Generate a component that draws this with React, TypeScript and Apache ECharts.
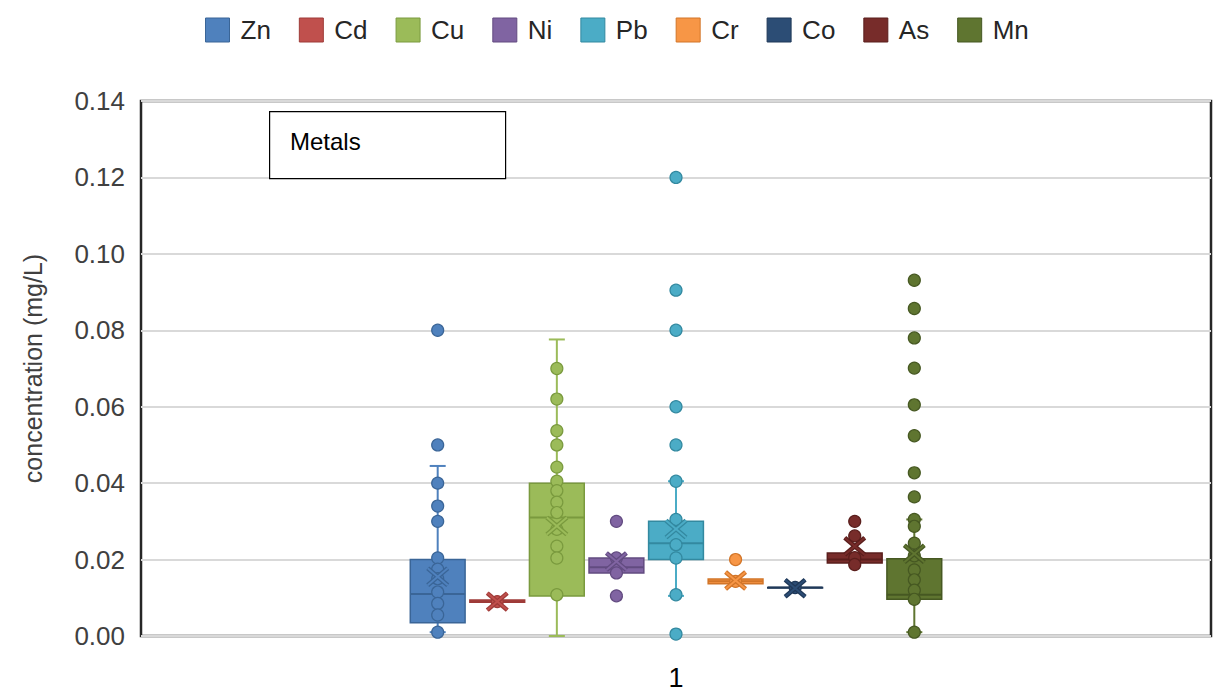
import React, { useEffect, useRef } from "react";
import * as echarts from "echarts";

const metals = ["Zn", "Cd", "Cu", "Ni", "Pb", "Cr", "Co", "As", "Mn"];
const colors = ["#4F81BD", "#C0504D", "#9BBB59", "#8064A2", "#4BACC6", "#F79646", "#2C4D75", "#772C2A", "#5F7530"];
const borders = ["#3A6597", "#9E3B38", "#7A9A3E", "#624B80", "#3389A0", "#D27528", "#1F3858", "#5A1E1C", "#465822"];

const lowWhisker = [0.001, 0.0088, 0.0, 0.0165, 0.0105, 0.0137, 0.0127, 0.0191, 0.001];
const q1 = [0.0035, 0.0088, 0.0105, 0.0165, 0.02, 0.0137, 0.0127, 0.0191, 0.0096];
const median = [0.011, 0.009, 0.031, 0.018, 0.0243, 0.0143, 0.0127, 0.02, 0.0108];
const q3 = [0.02, 0.0094, 0.04, 0.0204, 0.03, 0.0149, 0.0127, 0.0217, 0.0202];
const highWhisker = [0.0445, 0.0094, 0.0776, 0.0204, 0.0405, 0.0149, 0.0127, 0.0217, 0.0305];
const mean = [0.0155, 0.009, 0.0288, 0.0195, 0.028, 0.0145, 0.0125, 0.0235, 0.0215];

const znPoints = [0.08, 0.05, 0.04, 0.034, 0.03, 0.0204, 0.0175, 0.015, 0.0115, 0.0085, 0.0055, 0.001];
const cdPoints = [0.009];
const cuPoints = [0.07, 0.062, 0.0537, 0.05, 0.0442, 0.0405, 0.038, 0.035, 0.0323, 0.0279, 0.0235, 0.0204, 0.0108];
const niPoints = [0.03, 0.0204, 0.018, 0.0165, 0.0105];
const pbPoints = [0.12, 0.0905, 0.08, 0.06, 0.05, 0.0405, 0.0305, 0.0239, 0.0204, 0.0108, 0.0005];
const crPoints = [0.02, 0.0143];
const coPoints = [0.0127];
const asPoints = [0.03, 0.0262, 0.0205, 0.0187];
const mnPoints = [0.0931, 0.0857, 0.078, 0.0701, 0.0605, 0.0524, 0.0427, 0.0364, 0.0305, 0.0287, 0.0243, 0.021, 0.0173, 0.0147, 0.012, 0.0096, 0.001];
const pointSets = [znPoints, cdPoints, cuPoints, niPoints, pbPoints, crPoints, coPoints, asPoints, mnPoints];

const xCategories = ["1"];
const yTicks = { min: 0, max: 0.14, interval: 0.02 };

const FONT = "'Liberation Sans', Arial, sans-serif";
const BOX_W = 0.92;

function boxRender(color: string, dark: string) {
  return (params: any, api: any) => {
    const x = api.value(0);
    const lo = api.coord([x, api.value(1)]);
    const b1 = api.coord([x, api.value(2)]);
    const md = api.coord([x, api.value(3)]);
    const b3 = api.coord([x, api.value(4)]);
    const hi = api.coord([x, api.value(5)]);
    const w = api.size([BOX_W, 0])[0];
    const cx = lo[0];
    const cap = 8;
    const children: any[] = [];
    const ls = { stroke: color, lineWidth: 2 };
    if (hi[1] < b3[1] - 0.5) {
      children.push({ type: "line", shape: { x1: cx, y1: b3[1], x2: cx, y2: hi[1] }, style: ls });
      children.push({ type: "line", shape: { x1: cx - cap, y1: hi[1], x2: cx + cap, y2: hi[1] }, style: ls });
    }
    if (lo[1] > b1[1] + 0.5) {
      children.push({ type: "line", shape: { x1: cx, y1: b1[1], x2: cx, y2: lo[1] }, style: ls });
      children.push({ type: "line", shape: { x1: cx - cap, y1: lo[1], x2: cx + cap, y2: lo[1] }, style: ls });
    }
    children.push({
      type: "rect",
      shape: { x: cx - w / 2, y: b3[1], width: w, height: Math.max(b1[1] - b3[1], 0.5) },
      style: { fill: color, stroke: dark, lineWidth: 1.5 },
    });
    children.push({ type: "line", shape: { x1: cx - w / 2, y1: md[1], x2: cx + w / 2, y2: md[1] }, style: { stroke: dark, lineWidth: 2 } });
    return { type: "group", children };
  };
}

function meanRender(color: string, dark: string) {
  return (params: any, api: any) => {
    const p = api.coord([api.value(0), api.value(1)]);
    const r = 10;
    const s1 = { x1: p[0] - r, y1: p[1] - r * 0.85, x2: p[0] + r, y2: p[1] + r * 0.85 };
    const s2 = { x1: p[0] - r, y1: p[1] + r * 0.85, x2: p[0] + r, y2: p[1] - r * 0.85 };
    return {
      type: "group",
      children: [
        { type: "line", shape: s1, style: { stroke: dark, lineWidth: 4.5 } },
        { type: "line", shape: s2, style: { stroke: dark, lineWidth: 4.5 } },
        { type: "line", shape: s1, style: { stroke: color, lineWidth: 2 } },
        { type: "line", shape: s2, style: { stroke: color, lineWidth: 2 } },
      ],
    };
  };
}

export default function App() {
  const ref = useRef<HTMLDivElement>(null);
  useEffect(() => {
    if (!ref.current) return;
    const chart = echarts.init(ref.current, null, { renderer: "svg" });
    const series: any[] = [];
    metals.forEach((m, i) => {
      series.push({
        name: m,
        type: "custom",
        xAxisIndex: 1,
        yAxisIndex: 0,
        z: 2,
        itemStyle: { color: colors[i], borderColor: borders[i], borderWidth: 1 },
        renderItem: boxRender(colors[i], borders[i]),
        data: [[i + 1, lowWhisker[i], q1[i], median[i], q3[i], highWhisker[i]]],
        encode: { x: 0, y: [1, 2, 3, 4, 5] },
      });
    });
    metals.forEach((m, i) => {
      series.push({
        name: m,
        type: "scatter",
        xAxisIndex: 1,
        yAxisIndex: 0,
        z: 3,
        symbol: "circle",
        symbolSize: 12,
        itemStyle: { color: colors[i], borderColor: borders[i], borderWidth: 1.2, opacity: 1 },
        data: pointSets[i].map((v) => [i + 1, v]),
      });
    });
    metals.forEach((m, i) => {
      series.push({
        name: m,
        type: "custom",
        xAxisIndex: 1,
        yAxisIndex: 0,
        z: 4,
        itemStyle: { color: colors[i] },
        renderItem: meanRender(colors[i], borders[i]),
        data: [[i + 1, mean[i]]],
        encode: { x: 0, y: 1 },
      });
    });

    chart.setOption({
      animation: false,
      backgroundColor: "#ffffff",
      textStyle: { fontFamily: FONT },
      legend: {
        data: metals.map((m, i) => ({ name: m, itemStyle: { color: colors[i], borderColor: borders[i], borderWidth: 1 } })),
        left: 200,
        top: 12,
        icon: "rect",
        itemWidth: 24,
        itemHeight: 24,
        itemGap: 28,
        textStyle: { fontSize: 26, color: "#262626", fontFamily: FONT, padding: [0, 0, 0, 6] },
      },
      grid: {
        left: 141,
        right: 4,
        top: 101,
        bottom: 57,
        show: true,
        borderColor: "#262626",
        borderWidth: 2.5,
        backgroundColor: "transparent",
      },
      xAxis: [
        {
          type: "category",
          data: xCategories,
          axisLine: { show: false },
          axisTick: { show: false },
          axisLabel: { fontSize: 27, color: "#000", margin: 28, fontFamily: FONT },
          splitLine: { show: false },
        },
        {
          type: "value",
          min: -3.98,
          max: 13.98,
          show: false,
          splitLine: { show: false },
        },
      ],
      yAxis: {
        type: "value",
        min: yTicks.min,
        max: yTicks.max,
        interval: yTicks.interval,
        axisLine: { show: false },
        axisTick: { show: false },
        axisLabel: { fontSize: 26, color: "#404040", margin: 16, fontFamily: FONT, formatter: (v: number) => v.toFixed(2) },
        splitLine: { lineStyle: { color: "#d9d9d9", width: 2 } },
        name: "concentration (mg/L)",
        nameLocation: "middle",
        nameGap: 96,
        nameRotate: 90,
        nameTextStyle: { fontSize: 25, color: "#404040", fontFamily: FONT },
      },
      graphic: [
        {
          type: "rect",
          left: 269,
          top: 111,
          shape: { width: 236, height: 67 },
          style: { fill: "#ffffff", stroke: "#000000", lineWidth: 1.2 },
          z: 10,
        },
        {
          type: "text",
          left: 290,
          top: 129,
          style: { text: "Metals", fontSize: 24, fill: "#000000", fontFamily: FONT },
          z: 11,
        },
      ],
      series,
    });
    return () => chart.dispose();
  }, []);
  return <div ref={ref} style={{ position: "fixed", left: 0, top: 0, width: 1215, height: 693 }} />;
}
